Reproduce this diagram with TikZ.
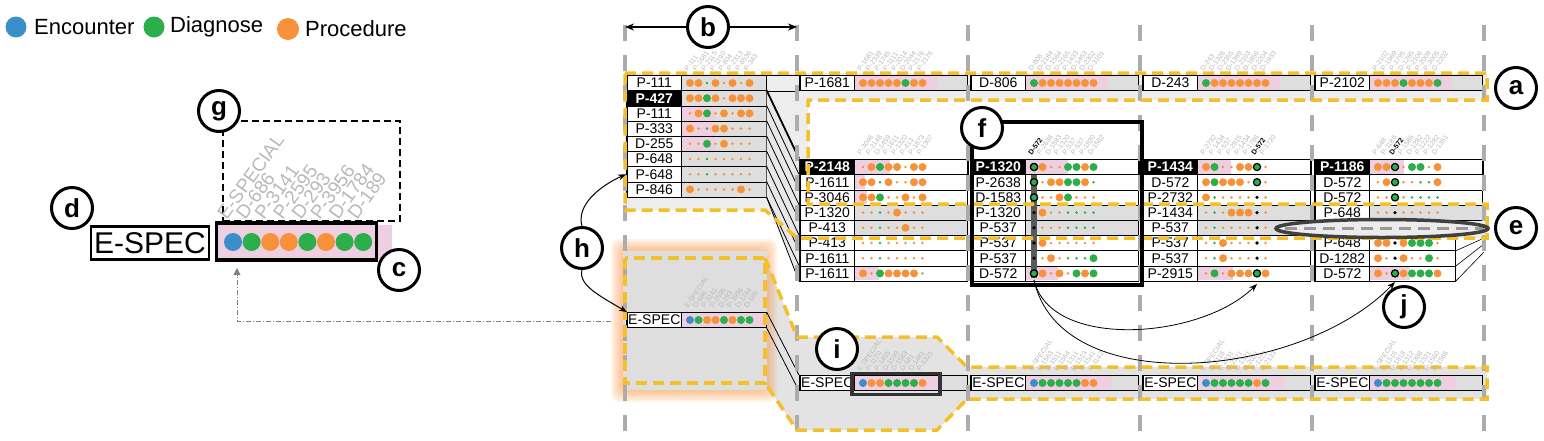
\documentclass[tikz,border=0pt]{standalone}
\usepackage{fontspec}
\setmainfont{Liberation Sans}
\usepackage{xstring}
\usetikzlibrary{arrows.meta}

\definecolor{orng}{RGB}{247,146,58}
\definecolor{grn}{RGB}{44,174,74}
\definecolor{blu}{RGB}{58,143,200}
\definecolor{pinkbg}{RGB}{238,206,225}
\definecolor{barbg}{RGB}{222,222,222}
\definecolor{ylw}{RGB}{243,192,42}
\definecolor{vgray}{RGB}{172,172,172}
\definecolor{taggray}{RGB}{185,185,185}

\tikzset{
  dot O/.style={fill=orng, radius=4pt},
  dot o/.style={fill=orng, radius=1.4pt},
  dot G/.style={fill=grn, radius=4pt},
  dot g/.style={fill=grn, radius=1.4pt},
  dot B/.style={fill=blu, radius=4pt},
  dot R/.style={fill=grn, draw=black, line width=1.2pt, radius=3.6pt},
  dot k/.style={fill=black, radius=1.8pt},
  bar/.style={draw=black, line width=0.6pt, minimum height=15.2pt, minimum width=168pt, inner sep=0pt, anchor=west},
  wbar/.style={fill=white},
  wbarH/.style={fill=white, line width=1.8pt},
  wbarT/.style={fill=white, minimum width=141pt},
  gbar/.style={fill=barbg},
  gbarS/.style={fill=barbg, minimum width=140pt},
  lbl/.style={draw=black, line width=0.6pt, fill=white, minimum height=15.2pt, minimum width=54pt, inner sep=0pt, anchor=west, font=\fontsize{14}{14}\selectfont},
  lblhi/.style={lbl, fill=black, text=white, font=\fontsize{14}{14}\selectfont\bfseries},
  tag/.style={text=taggray, rotate=55, anchor=south west, inner sep=0pt, font=\fontsize{7}{7}\selectfont},
  tagbig/.style={text=taggray, rotate=54, anchor=south west, inner sep=0pt, font=\fontsize{19}{19}\selectfont},
  callout/.style={circle, draw=black, line width=3pt, fill=white, minimum size=41pt, inner sep=0pt, font=\fontsize{26}{26}\selectfont\bfseries},
  hlband/.style={draw=ylw, line width=3.5pt, dash pattern=on 11pt off 6pt},
  colline/.style={draw=vgray, line width=4.5pt, dash pattern=on 16pt off 14pt},
  legtext/.style={anchor=west, inner sep=0pt, font=\fontsize{22}{22}\selectfont},
}

% one column of sequence rows: name, left x, y of row 1, rows
\newcommand{\seqcol}[4]{%
  \foreach \rw/\lbltext/\lsty/\bsty/\pkw/\dstr in {#4} {
    \pgfmathsetmacro{\yy}{#3+15.2*(\rw-1)}
    \node[bar, \bsty] (#1r\rw) at (#2+2, \yy) {};
    \fill[pinkbg] (#2+57.5, \yy-6.9) rectangle ++(\pkw, 13.8);
    \node[\lsty] (#1l\rw) at (#2+3, \yy) {\lbltext};
    \foreach \i in {1,...,8} {
      \StrChar{\dstr}{\i}[\dc]
      \path[dot \dc] (#2+66+8.5*\i-8.5, \yy) circle;
    }
  }%
}
% rotated event names above a row: name, x of first dot, y, names
\newcommand{\seqtags}[4]{%
  \foreach \tg [count=\i] in {#4}
    \node[tag] (#1\i) at (#2+8.5*\i-10.5, #3) {\tg};
}

\begin{document}
\begin{tikzpicture}[x=1pt, y=-1pt]
\useasboundingbox (0,0) rectangle (1544,440);

% legend
\node[circle, fill=blu, minimum size=21pt, inner sep=0] (lgE) at (16,27) {};
\node[legtext] (lgEt) at (34,27) {Encounter};
\node[circle, fill=grn, minimum size=21pt, inner sep=0] (lgD) at (154,27) {};
\node[legtext] (lgDt) at (170,27) {Diagnose};
\node[circle, fill=orng, minimum size=22pt, inner sep=0] (lgP) at (288,29) {};
\node[legtext] (lgPt) at (305,29) {Procedure};

% highlighted flow (a), gray underlay
\fill[barbg!55] (625,73) -- (1487,73) -- (1487,100) -- (808,100) -- (808,204)
  -- (1487,204) -- (1487,238) -- (797,238) -- (765,210) -- (625,210) -- cycle;

% lower flow of E-SPEC
\fill[barbg!85] (765,258) -- (797,337) -- (937,337) -- (967,367) -- (1487,367)
  -- (1487,399) -- (967,399) -- (937,430) -- (797,430) -- (765,383) -- cycle;
\foreach \k in {0,...,6}
  \fill[orng, opacity=0.11, rounded corners=8pt] (611+\k*2,239+\k*2) rectangle (777-\k*2,402-\k*2);
\fill[barbg] (623,251) rectangle (767,390);

% column 1
\seqcol{c1}{624}{83}{1/P-111/lbl/gbarS/0/OOgOoOoO,
  2/P-427/lblhi/gbarS/0/OOGOoOOO,
  3/P-111/lbl/gbarS/33/oOGoOoOO,
  4/P-333/lbl/gbarS/33/OogOOooo,
  5/D-255/lbl/gbarS/33/ooGoOooo,
  6/P-648/lbl/gbarS/0/oogooooo,
  7/P-648/lbl/gbarS/0/oogooooo,
  8/P-846/lbl/gbarS/0/OoooooOo}

% top row (a)
\seqcol{t2}{797}{83}{1/P-1681/lbl/gbar/82/OOOOOGOO}
\seqcol{t3}{968}{83}{1/D-806/lbl/gbar/82/GOOOOOOO}
\seqcol{t4}{1140}{83}{1/D-243/lbl/gbar/82/GOOOOOOO}
\seqcol{t5}{1312}{83}{1/P-2102/lbl/gbar/82/OOOGOOOG}

% columns 2 to 5
\seqcol{c2}{797}{167}{1/P-2148/lblhi/wbarH/35/oOGOOoOO,
  2/P-1611/lbl/wbar/10/OOgOooOO,
  3/P-3046/lbl/wbar/12/OOGooOoO,
  4/P-1320/lbl/gbar/0/oogoOooo,
  5/P-413/lbl/gbar/0/oogooOoo,
  6/P-413/lbl/wbar/0/oogooooo,
  7/P-1611/lbl/wbar/0/oogooooo,
  8/P-1611/lbl/wbar/24/OoGOOOOo}
\seqcol{c3}{968}{167}{1/P-1320/lblhi/wbarH/42/ROooGGOG,
  2/P-2638/lbl/wbar/0/RoOOGGOg,
  3/D-1583/lbl/wbar/0/RooOGooo,
  4/P-1320/lbl/gbar/0/kOoogggg,
  5/P-537/lbl/gbar/0/kooogggg,
  6/P-537/lbl/wbar/0/kOoooooo,
  7/P-537/lbl/wbar/0/koOogggG,
  8/D-572/lbl/wbar/32/ROoOoGOG}
\seqcol{c4}{1140}{167}{1/P-1434/lblhi/wbarH/33/OGooOORo,
  2/D-572/lbl/wbar/0/OGOOOoRo,
  3/P-2732/lbl/wbar/0/Ogooooko,
  4/P-1434/lbl/gbar/0/ogoOOOko,
  5/P-537/lbl/gbar/0/ogooooko,
  6/P-537/lbl/wbar/0/ogOoooko,
  7/P-537/lbl/wbar/0/ogOoooko,
  8/P-2915/lbl/wbar/35/oGoOOORO}
\seqcol{c5}{1312}{167}{1/P-1186/lblhi/wbarH/34/OORoGGoO,
  2/D-572/lbl/wbar/0/oORooggO,
  3/D-572/lbl/wbar/0/ooRogggg,
  4/P-648/lbl/gbar/0/ookooooo,
  6/P-648/lbl/wbarT/0/OOkOGGGo,
  7/D-1282/lbl/wbarT/0/OokOooGo,
  8/D-572/lbl/wbarT/40/OoROGGGO}

% E-SPEC rows
\seqcol{e1}{624}{320}{1/E-SPEC/lbl/gbarS/84/BGOOGOGG}
\seqcol{e2}{797}{383}{1/E-SPEC/lbl/gbar/86/BOOGGGGO}
\seqcol{e3}{968}{383}{1/E-SPEC/lbl/gbar/86/BGGGGGOO}
\seqcol{e4}{1140}{383}{1/E-SPEC/lbl/gbar/86/BGGGGGOG}
\seqcol{e5}{1312}{383}{1/E-SPEC/lbl/gbar/86/BGGGGGGG}

% links from column 1 to column 2
\fill[barbg!70] (c1r2.north east) -- (c2r1.north west) -- (c2r8.south west) -- (c1r8.south east) -- cycle;
\draw[line width=0.6pt] (c1r1.north east) -- (t2r1.north west);
\draw[line width=0.6pt] (c1r1.south east) -- (t2r1.south west);
\draw[line width=1.8pt] (c1r2.north east) -- (c2r1.north west);
\foreach \k [evaluate=\k as \m using int(\k-1)] in {3,...,8}
  \draw[line width=0.8pt] (c1r\k.north east) -- (c2r\m.north west);
\draw[line width=0.8pt] (c1r8.south east) -- (c2r8.north west);
\draw[line width=0.8pt] (c1r8.south east) -- (c2r8.south west);
\draw[line width=0.8pt] (e1r1.north east) -- (e2r1.north west);
\draw[line width=0.8pt] (e1r1.south east) -- (e2r1.south west);

% links out of column 5
\coordinate (o6) at (1484,238);
\coordinate (o7) at (1484,244);
\coordinate (o8) at (1484,252);
\draw[line width=0.6pt] (c5r6.south east) -- (o6);
\draw[line width=0.6pt] (c5r7.south east) -- (o7);
\draw[line width=0.6pt] (c5r8.south east) -- (o8);

% column guides
\foreach \x in {625,797,968,1140,1312,1484}
  \draw[colline] (\x,25) -- (\x,440);

% D-572 aligned in column 3
\fill[black!65] (1031,175) rectangle (1037,278);
\foreach \dc [count=\i] in {R,R,R,k,k,k,k,R}
  \path[dot \dc] (1034,167+15.2*\i-15.2) circle;

% yellow outlines
\draw[hlband] (625,73) -- (1487,73) -- (1487,100) -- (808,100) -- (808,204)
  -- (1487,204) -- (1487,238) -- (797,238) -- (765,210) -- (625,210) -- cycle;
\draw[hlband] (765,258) -- (797,337) -- (937,337) -- (967,367) -- (1487,367)
  -- (1487,399) -- (967,399) -- (937,430) -- (797,430) -- (765,383);
\draw[hlband] (625,258) rectangle (765,383);

% boxes f, i, e
\node[draw, line width=3.5pt, minimum width=170pt, minimum height=163pt, inner sep=0] (fbox) at (1057,203.5) {};
\node[draw=black!80, line width=3.5pt, minimum width=88pt, minimum height=21pt, inner sep=0] (ibox) at (896,384) {};
\fill[gray!15] (1382,228.5) ellipse [x radius=106pt, y radius=9pt];
\draw[gray!80, line width=3pt, dash pattern=on 12pt off 7pt] (1285,228.5) -- (1484,228.5);
\draw[black!75, line width=3.5pt] (1382,228.5) ellipse [x radius=106pt, y radius=9pt];

% event names
\seqtags{c1t}{690}{72}{P-111,P-1681,P-2115,P-1190,P-804,P-2313,P-6536,P-343}
\seqtags{t2t}{863}{72}{P-1681,P-2339,P-1745,P-1111,P-2014,D-2044,P-2176,P-2176}
\seqtags{t3t}{1034}{72}{D-806,D-2184,D-1564,D-2165,P-1433,D-1463,D-2302,D-3101}
\seqtags{t4t}{1206}{72}{D-243,D-1326,D-2355,D-1389,D-2103,D-1856,D-2204,D-1933}
\seqtags{t5t}{1378}{72}{P-2102,P-1969,P-1795,D-1285,P-2106,P-2009,P-3005,D-2202}
\seqtags{c2t}{863}{156}{P-3046,P-2148,D-1459,P-1611,P-1320,P-413,P-1873,P-1307}
\seqtags{c3t}{1034}{156}{\textbf{\textcolor{black}{D-572}},P-2638,D-1583,P-1320,P-537,P-537,P-1820,D-1582}
\seqtags{c4t}{1206}{156}{P-2732,P-1434,P-537,P-2915,P-1434,P-1788,\textbf{\textcolor{black}{D-572}},P-1720}
\seqtags{c5t}{1378}{156}{P-648,P-1186,\textbf{\textcolor{black}{D-572}},P-1585,D-1282,P-1222,P-1282,D-1351}
\seqtags{e1t}{690}{309}{E-SPECIAL,D-686,P-3141,P-2595,D-293,P-3956,D-1784,D-189}
\seqtags{e2t}{863}{372}{E-SPECIAL,P-1170,P-1455,D-1599,D-1583,D-581,D-1481,P-1321}
\seqtags{e3t}{1034}{372}{E-SPECIAL,D-1563,D-1511,D-1564,D-1311,D-1513,P-1541,P-1142}
\seqtags{e4t}{1206}{372}{E-SPECIAL,D-2116,D-2331,D-2321,D-1321,D-2021,P-1222,D-2133}
\seqtags{e5t}{1378}{372}{E-SPECIAL,D-1516,D-1818,D-1312,D-1388,D-1321,D-1560,D-1566}

% arrows
\coordinate (bL) at (625,27);
\coordinate (bR) at (797,27);
\draw[{Stealth[length=9pt,width=7pt]}-{Stealth[length=9pt,width=7pt]}, line width=1.6pt] (bL) -- (bR);
\coordinate (fsrc) at (1034,280);
\coordinate (ftgt) at (1257,284);
\coordinate (jtgt) at (1395,282);
\draw[-{Stealth[length=8pt,width=6pt]}, line width=0.8pt] (fsrc) .. controls (1050,350) and (1200,340) .. (ftgt);
\draw[-{Stealth[length=8pt,width=6pt]}, line width=0.8pt] (fsrc) .. controls (1060,400) and (1300,380) .. (jtgt);

% detail of one sequence
\fill[pinkbg] (217,225) rectangle (392,259);
\foreach \dc [count=\i] in {B,G,O,O,G,O,G,G}
  \path[dot \dc, radius=9pt] (233+18.6*\i-18.6,242) circle;
\node[draw, line width=2.2pt, minimum width=118pt, minimum height=33pt, inner sep=0, font=\fontsize{30}{30}\selectfont] (bigspec) at (150,243) {E-SPEC};
\node[draw, line width=3.5pt, minimum width=160pt, minimum height=37pt, inner sep=0] (cbox) at (296.5,241.5) {};
\node[draw, line width=2.5pt, dash pattern=on 7pt off 4pt, minimum width=177pt, minimum height=100pt, inner sep=0] (gbox) at (311.5,171) {};
\foreach \tg [count=\i] in {E-SPECIAL,D-686,P-3141,P-2595,D-293,P-3956,D-1784,D-189}
  \node[tagbig] (g\i) at (227+18.6*\i-18.6,221) {\tg};
\coordinate (glowL) at (611,321);
\coordinate (cdot) at (237,268);
\draw[gray, line width=0.8pt, dash pattern=on 5pt off 2pt on 1pt off 2pt, -{Triangle[length=7pt,width=7pt]}] (glowL) -| (cdot);

% callouts
\node[callout] (ca) at (1516,88) {a};
\node[callout] (cb) at (708,27) {b};
\node[callout] (cc) at (399,270) {c};
\node[callout] (cd) at (72,208) {d};
\node[callout] (ce) at (1516,228) {e};
\node[callout] (cf) at (982,128) {f};
\node[callout] (cg) at (219,111) {g};
\node[callout] (ch) at (582,248) {h};
\node[callout] (ci) at (837,349) {i};
\node[callout] (cj) at (1404,307) {j};

\draw[-{Stealth[length=8pt,width=6pt]}, line width=1pt] (ch.north) .. controls (576,205) and (600,186) .. (c1r7.west);
\draw[-{Stealth[length=8pt,width=6pt]}, line width=1pt] (ch.south) .. controls (578,285) and (600,296) .. (e1l1.north west);
\end{tikzpicture}
\end{document}
